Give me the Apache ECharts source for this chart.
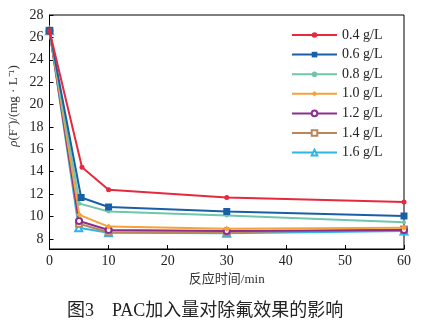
<!DOCTYPE html>
<html><head><meta charset="utf-8">
<script src="https://cdn.jsdelivr.net/npm/echarts@6/dist/echarts.min.js"></script>
<style>html,body{margin:0;padding:0;background:#fff}#c{width:428px;height:327px}</style>
</head><body><div id="c"></div>
<script>
const times = [0, 5, 10, 30, 60];
const seriesNames = ['0.4 g/L', '0.6 g/L', '0.8 g/L', '1.0 g/L', '1.2 g/L', '1.4 g/L', '1.6 g/L'];
const firstSampleTimes = [5.5, 5.35, 5.1, 5.05, 5.0, 5.0, 4.95];
const v04 = [26.6, 14.4, 12.4, 11.7, 11.3];
const v06 = [26.6, 11.7, 10.85, 10.45, 10.05];
const v08 = [26.6, 11.15, 10.45, 10.1, 9.5];
const v10 = [26.6, 10.15, 9.1, 8.9, 9.0];
const v12 = [26.6, 9.6, 8.8, 8.7, 8.8];
const v14 = [26.6, 9.35, 8.6, 8.6, 8.85];
const v16 = [26.6, 9.0, 8.55, 8.5, 8.7];
const yTicks = [8, 10, 12, 14, 16, 18, 20, 22, 24, 26, 28];

const allValues = [v04, v06, v08, v10, v12, v14, v16];
const colors = ['#e52a3f', '#1a5fa6', '#6fc6aa', '#f5a23a', '#8b2e8e', '#b8875a', '#2db6e6'];
const symbols = ['circle', 'rect', 'circle', 'diamond', 'emptyCircle', 'emptyRect', 'emptyTriangle'];
const symSizes = [5, 7, 4, 6, 6, 6, 7];

const serif = '"Liberation Serif","Times New Roman","Noto Sans CJK SC",serif';

const series = allValues.map((vals, i) => ({
  name: seriesNames[i],
  type: 'line',
  data: vals.map((v, k) => [k === 1 ? firstSampleTimes[i] : times[k], v]),
  symbol: symbols[i],
  symbolSize: symSizes[i],
  showAllSymbol: true,
  lineStyle: { color: colors[i], width: 2 },
  itemStyle: { color: colors[i], borderColor: colors[i], borderWidth: symbols[i].startsWith('empty') ? 1.3 : 0 },
  emphasis: { disabled: true },
  z: 10 - i
}));

const chart = echarts.init(document.getElementById('c'), null, { renderer: 'canvas' });
chart.setOption({
  animation: false,
  backgroundColor: '#fff',
  title: {
    text: '图3\u3000PAC加入量对除氟效果的影响',
    left: 62, top: 297,
    textStyle: { fontFamily: serif, fontSize: 18, fontWeight: 'normal', color: '#222' }
  },
  grid: { left: 49.5, right: 24, top: 15, bottom: 78, show: true, borderColor: '#000', borderWidth: 1, backgroundColor: 'transparent' },
  legend: {
    orient: 'vertical', left: 286, top: 23,
    itemWidth: 45, itemHeight: 7, itemGap: 5.6,
    data: seriesNames,
    textStyle: { fontFamily: serif, fontSize: 14, color: '#222', lineHeight: 14 }
  },
  xAxis: {
    type: 'value', min: 0, max: 60, interval: 10,
    name: '反应时间/min', nameLocation: 'middle', nameGap: 21,
    nameTextStyle: { fontFamily: serif, fontSize: 13, color: '#333' },
    axisLine: { show: true, lineStyle: { color: '#000', width: 1 } },
    axisTick: { show: true, inside: true, length: 4, lineStyle: { color: '#000' } },
    axisLabel: { fontFamily: serif, fontSize: 14, color: '#222', margin: 5 },
    splitLine: { show: false }
  },
  yAxis: {
    type: 'value', min: 7.1, max: 28,
    axisLine: { show: true, lineStyle: { color: '#000', width: 1 } },
    axisTick: { show: true, inside: true, length: 4, lineStyle: { color: '#000' }, customValues: yTicks },
    axisLabel: { fontFamily: serif, fontSize: 14, color: '#222', margin: 6, customValues: yTicks },
    splitLine: { show: false }
  },
  graphic: [{
    type: 'text',
    x: 14, y: 106,
    rotation: Math.PI / 2,
    style: {
      text: '{i|ρ}(F\u207B)/(mg · L\u207B\u00B9)',
      fontFamily: serif, fontSize: 13, fill: '#333',
      align: 'center', verticalAlign: 'middle',
      rich: { i: { fontStyle: 'italic', fontFamily: serif, fontSize: 13, fill: '#333' } }
    }
  }],
  series: series
});
</script>
</body></html>
